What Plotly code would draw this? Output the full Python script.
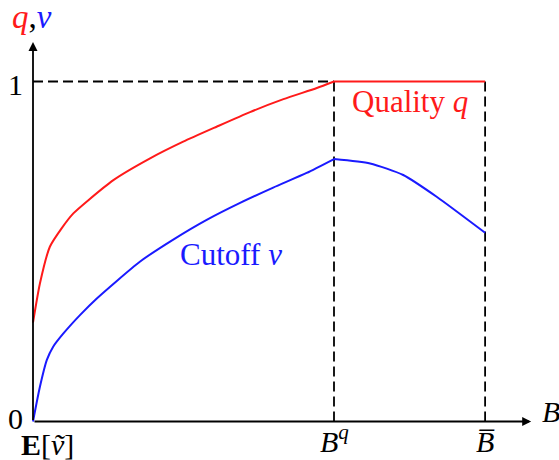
import plotly.graph_objects as go

# values (B^q = 1, B-bar = 1.502)
B_Q = 1.0
B_BAR = 1.502

quality_x = [0, 0.023, 0.056, 0.095, 0.134, 0.184, 0.267, 0.389, 0.499,
             0.610, 0.721, 0.832, 0.943, 1.0, 1.502]
quality_y = [0.291, 0.406, 0.514, 0.568, 0.612, 0.651, 0.710, 0.774, 0.823,
             0.867, 0.910, 0.948, 0.981, 1.0, 1.0]

cutoff_x = [0, 0.023, 0.046, 0.067, 0.101, 0.156, 0.212, 0.355, 0.466,
            0.577, 0.688, 0.798, 0.909, 1.0, 1.120, 1.230, 1.341, 1.502]
cutoff_y = [0, 0.102, 0.181, 0.220, 0.259, 0.313, 0.362, 0.470, 0.535,
            0.593, 0.643, 0.688, 0.731, 0.772, 0.759, 0.725, 0.661, 0.555]

RED = "#FF1A1A"
BLUE = "#1A1AFF"
FONT = "Liberation Serif"
SIZE = 30


def split_at(xs, ys, x0):
    """Two pieces sharing the point at x0, so the kink stays sharp."""
    i = xs.index(x0)
    return (xs[:i + 1], ys[:i + 1]), (xs[i:], ys[i:])


fig = go.Figure()
for xs, ys, color in [(quality_x, quality_y, RED), (cutoff_x, cutoff_y, BLUE)]:
    for px, py in split_at(xs, ys, B_Q):
        fig.add_trace(go.Scatter(x=px, y=py, mode="lines",
                                 line=dict(color=color, width=2, shape="spline",
                                           smoothing=0.6),
                                 hoverinfo="skip"))

# dashed guides
dash = dict(color="black", width=1.8, dash="10px,5px")
fig.add_shape(type="line", x0=0, y0=1, x1=B_Q, y1=1, line=dash, layer="below")
fig.add_shape(type="line", x0=B_Q, y0=0, x1=B_Q, y1=1, line=dash, layer="below")
fig.add_shape(type="line", x0=B_BAR, y0=0, x1=B_BAR, y1=1, line=dash, layer="below")

# axes with arrow heads
axis_arrow = dict(text="", showarrow=True, arrowhead=2, arrowsize=1,
                  arrowwidth=1.8, arrowcolor="black", axref="x", ayref="y")
fig.add_annotation(x=1.655, y=0, ax=0, ay=0, **axis_arrow)
fig.add_annotation(x=0, y=1.116, ax=0, ay=0, **axis_arrow)

txt = dict(showarrow=False, font=dict(family=FONT, size=SIZE, color="black"))
fig.add_annotation(x=-0.075, y=1.19, xanchor="left", yanchor="middle",
                   text=f"<span style='color:{RED}'><i>q</i></span>,"
                        f"<span style='color:{BLUE}'><i>v</i></span>",
                   **{**txt, "font": dict(family=FONT, size=SIZE + 3, color="black")})
fig.add_annotation(x=-0.028, y=0.99, xanchor="right", yanchor="middle", text="1", **txt)
fig.add_annotation(x=-0.028, y=0.01, xanchor="right", yanchor="middle", text="0", **txt)
fig.add_annotation(x=0.048, y=-0.067, xanchor="center", yanchor="middle",
                   text="<b>E</b>[<i>ṽ</i>]", **txt)
fig.add_annotation(x=B_Q, y=-0.05, xanchor="center", yanchor="middle",
                   text="<i>B</i><sup><i>q</i></sup>", **txt)
fig.add_annotation(x=B_BAR, y=-0.06, xanchor="center", yanchor="middle",
                   text="<i>B\u0305</i>", **txt)
fig.add_annotation(x=1.72, y=0.03, xanchor="center", yanchor="middle",
                   text="<i>B</i>", **txt)
fig.add_annotation(x=1.2525, y=0.94, xanchor="center", yanchor="middle",
                   text="Quality <i>q</i>",
                   **{**txt, "font": dict(family=FONT, size=SIZE + 1, color=RED)})
fig.add_annotation(x=0.659, y=0.49, xanchor="center", yanchor="middle",
                   text="Cutoff <i>v</i>",
                   **{**txt, "font": dict(family=FONT, size=SIZE + 1, color=BLUE)})

fig.update_layout(
    width=559,
    height=460,
    margin=dict(l=0, r=0, t=0, b=0),
    showlegend=False,
    paper_bgcolor="white",
    plot_bgcolor="white",
    xaxis=dict(range=[-33 / 301, 526 / 301], visible=False, fixedrange=True),
    yaxis=dict(range=[-38.5 / 340, 421.5 / 340], visible=False, fixedrange=True),
)

fig.write_html("out.html", config={"displayModeBar": False},
               post_script="document.body.style.margin='0';")
